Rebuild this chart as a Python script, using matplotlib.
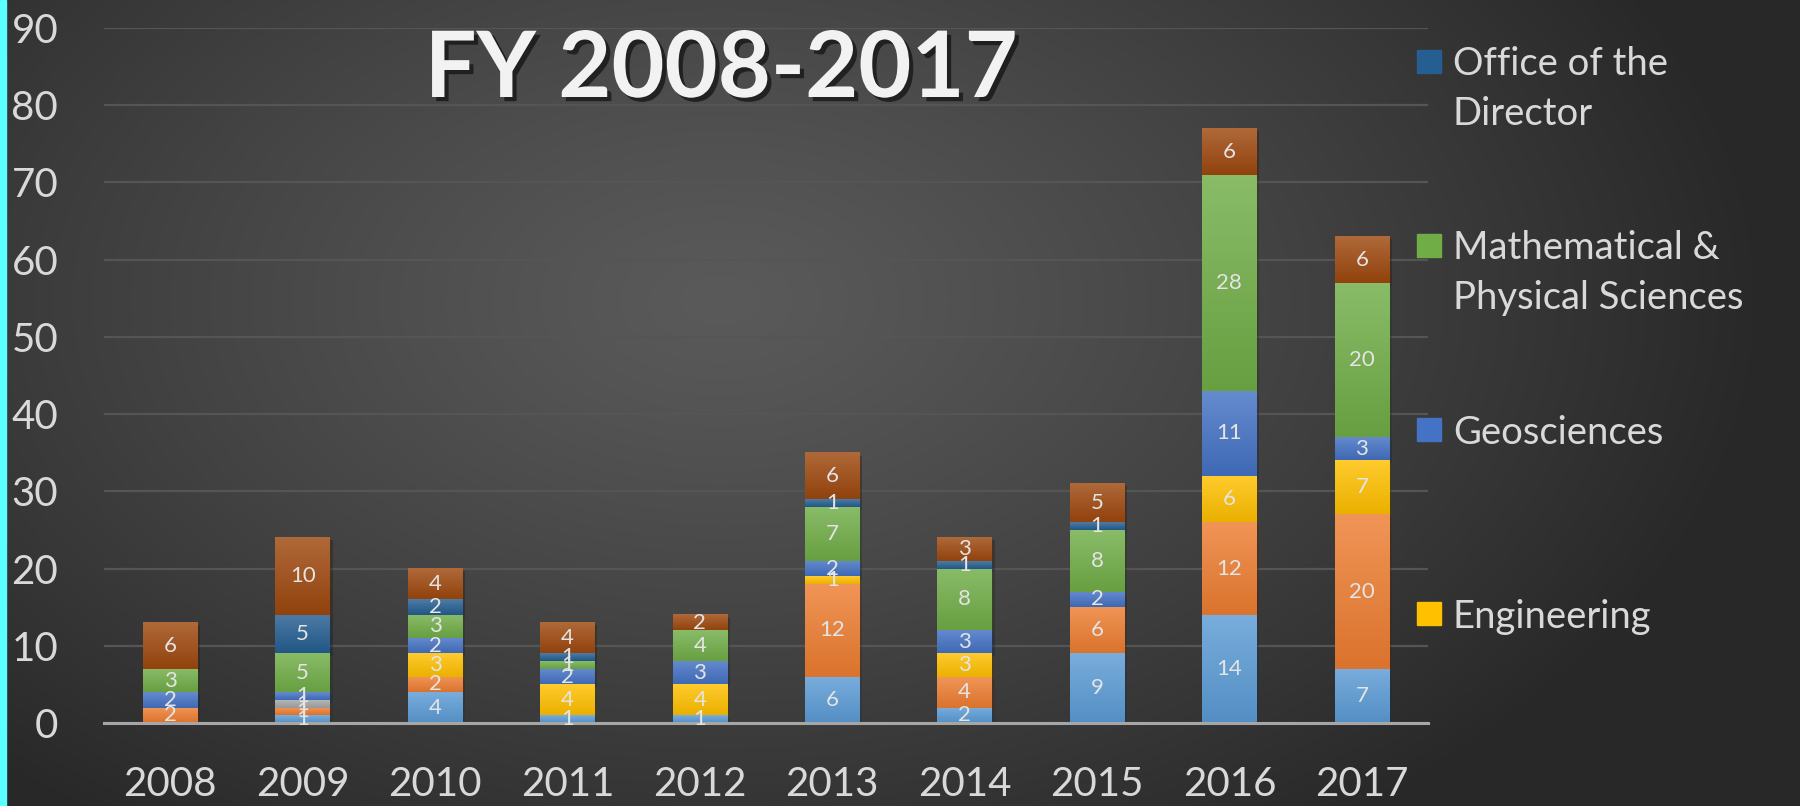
import numpy as np
import matplotlib
matplotlib.use("Agg")
import matplotlib.pyplot as plt
from matplotlib.patches import Rectangle
from matplotlib import patheffects as pe
from matplotlib.colors import to_rgb

plt.rcParams['font.family'] = ['Lato', 'DejaVu Sans']

years = ['2008', '2009', '2010', '2011', '2012', '2013', '2014', '2015', '2016', '2017']

# stacked bottom -> top
series_1 = [0, 1, 4, 1, 1, 6, 2, 9, 14, 7]
series_2 = [2, 1, 2, 0, 0, 12, 4, 6, 12, 20]
series_3 = [0, 1, 0, 0, 0, 0, 0, 0, 0, 0]
engineering = [0, 0, 3, 4, 4, 1, 3, 0, 6, 7]
geosciences = [2, 1, 2, 2, 3, 2, 3, 2, 11, 3]
math_phys = [3, 5, 3, 1, 4, 7, 8, 8, 28, 20]
office_dir = [0, 5, 2, 1, 0, 1, 1, 1, 0, 0]
series_8 = [6, 10, 4, 4, 2, 6, 3, 5, 6, 6]

stack = [series_1, series_2, series_3, engineering, geosciences, math_phys, office_dir, series_8]
colors = ['#5B9BD5', '#ED7D31', '#A5A5A5', '#FFC000', '#4472C4', '#70AD47', '#255E91', '#9E480E']

legend_labels = ['Office of the\nDirector', 'Mathematical &\nPhysical Sciences', 'Geosciences', 'Engineering']
legend_colors = ['#255E91', '#70AD47', '#4472C4', '#FFC000']

W, H = 1800, 806
fig = plt.figure(figsize=(W / 100, H / 100), dpi=100)

# background radial gradient
bg = fig.add_axes([0, 0, 1, 1], zorder=-10)
yy, xx = np.mgrid[0:H, 0:W]
d = np.sqrt(((xx - 720) / 1050.0) ** 2 + ((yy - 300) / 650.0) ** 2)
d = np.clip(d, 0, 1) ** 1.2
c_in, c_out = np.array([0x5a, 0x5a, 0x5a]) / 255, np.array([0x28, 0x28, 0x28]) / 255
img = c_in[None, None, :] + (c_out - c_in)[None, None, :] * d[:, :, None]
bg.imshow(img, aspect='auto', extent=(0, 1, 0, 1), origin='upper')
bg.axis('off')
fig.patches.append(Rectangle((0, 0), 6 / W, 1, transform=fig.transFigure, color='#5cffff', zorder=5))

ax = fig.add_axes([104 / W, (H - 723) / H, (1428 - 104) / W, (723 - 28) / H])
ax.set_facecolor('none')

x = np.arange(len(years))
bw = 0.41
bottom = np.zeros(len(years))
for vals, col in zip(stack, colors):
    bars = ax.bar(x, vals, bw, bottom=bottom, color=col, zorder=2,
                  path_effects=[pe.SimplePatchShadow(offset=(2, -2), alpha=0.35), pe.Normal()])
    base = np.array(to_rgb(col))
    top_c = base + (1 - base) * 0.18
    bot_c = base * 0.92
    grad = np.linspace(0, 1, 64)[:, None, None] * (top_c - bot_c) + bot_c
    for p, v in zip(bars.patches, vals):
        if v == 0:
            continue
        ax.imshow(grad, aspect='auto', origin='lower', zorder=2.5,
                  extent=(p.get_x(), p.get_x() + p.get_width(), p.get_y(), p.get_y() + p.get_height()))
    ax.bar_label(bars, labels=[str(v) if v else '' for v in vals], label_type='center',
                 color='#e4e4e4', fontsize=16, zorder=4)
    bottom += np.array(vals)

ax.set_xlim(-0.5, len(years) - 0.5)
ax.set_ylim(0, 90)
ax.set_yticks(range(0, 91, 10))
ax.set_xticks(x)
ax.set_xticklabels(years)
ax.tick_params(axis='both', length=0, labelsize=29, labelcolor='#d9d9d9')
ax.tick_params(axis='y', pad=33)
ax.tick_params(axis='x', pad=31)
ax.yaxis.grid(True, color='#555555', lw=1.6, zorder=0)
ax.set_axisbelow(True)
for s in ['left', 'right', 'top']:
    ax.spines[s].set_visible(False)
ax.spines['bottom'].set_color('#a6a6a6')
ax.spines['bottom'].set_linewidth(2.2)

# title
fig.text(721 / W, 1 - 97 / H, 'FY 2008-2017', ha='center', va='baseline', fontsize=66,
         fontweight='bold', color='#f2f2f2',
         path_effects=[pe.withSimplePatchShadow(offset=(3, -3), shadow_rgbFace='black', alpha=0.55)])

# legend (only visible entries)
for i, (lab, col) in enumerate(zip(legend_labels, legend_colors)):
    cy = 61 + i * 184.3
    fig.patches.append(Rectangle((1417 / W, 1 - (cy + 11.5) / H), 24 / W, 23 / H,
                                 transform=fig.transFigure, color=col))
    for j, line in enumerate(lab.split('\n')):
        fig.text(1453 / W, 1 - (cy + 14 + j * 50) / H, line, ha='left', va='baseline',
                 fontsize=27.5, color='#d9d9d9')

fig.savefig('out.png', dpi=100)
